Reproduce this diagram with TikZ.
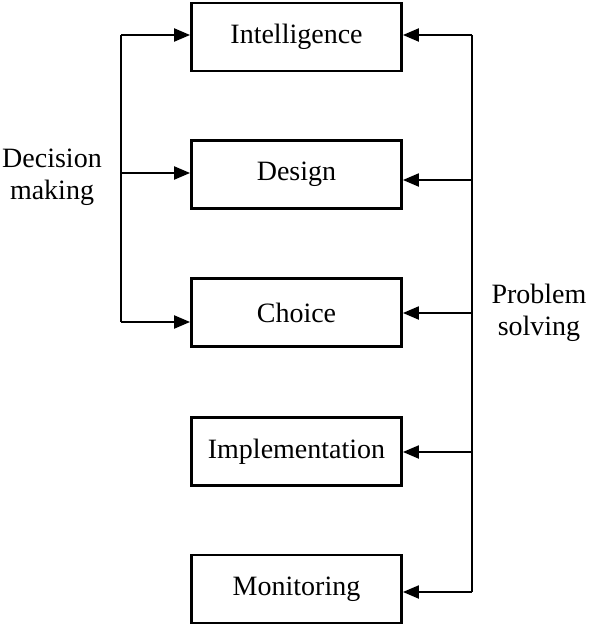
\documentclass[tikz,border=0pt]{standalone}
\usepackage{fontspec}
\setmainfont{Liberation Serif}
\usetikzlibrary{arrows.meta}
\begin{document}
\begin{tikzpicture}[x=1pt,y=-1pt,
  box/.style={draw,line width=2.8pt,minimum width=210pt,minimum height=68pt,inner sep=0pt,font=\fontsize{28}{34}\selectfont},
  lbl/.style={align=center,font=\fontsize{28}{32}\selectfont,inner sep=0pt},
  conn/.style={line width=2pt},
  arr/.style={conn,-{Triangle[length=16pt,width=13pt]}}]
\useasboundingbox (0,0) rectangle (590,626);
\node[box] (int) at (296.5,37) {Intelligence};
\node[box] (des) at (296.5,174.5) {Design};
\node[box] (cho) at (296.5,312.5) {Choice};
\node[box] (imp) at (296.5,451.5) {Implementation};
\node[box] (mon) at (296.5,589) {Monitoring};
\node[lbl] (dm) at (52,177) {Decision\\making};
\node[lbl] (ps) at (539,313) {Problem\\solving};
% left bracket
\coordinate (l1) at (121,35);
\coordinate (l2) at (121,173);
\coordinate (l3) at (121,322);
\draw[conn] (l1) -- (l3);
\draw[arr] (l1) -- (l1 -| int.west);
\draw[arr] (l2) -- (l2 -| des.west);
\draw[arr] (l3) -- (l3 -| cho.west);
% right line
\coordinate (r1) at (472,35);
\coordinate (r2) at (472,180);
\coordinate (r3) at (472,313);
\coordinate (r4) at (472,452);
\coordinate (r5) at (472,592);
\draw[conn] (r1) -- (r5);
\draw[arr] (r1) -- (r1 -| int.east);
\draw[arr] (r2) -- (r2 -| des.east);
\draw[arr] (r3) -- (r3 -| cho.east);
\draw[arr] (r4) -- (r4 -| imp.east);
\draw[arr] (r5) -- (r5 -| mon.east);
\end{tikzpicture}
\end{document}
